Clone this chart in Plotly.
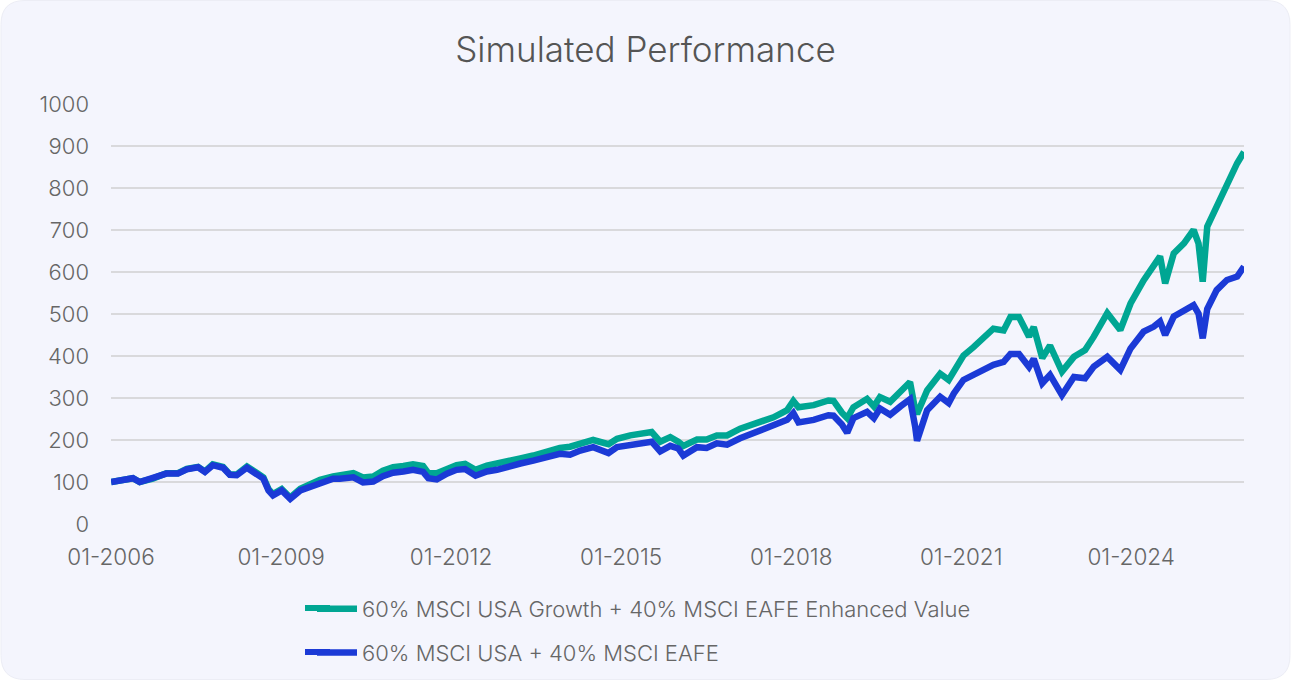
import plotly.graph_objects as go

dates = [
    "2006-01-02", "2006-04-01", "2006-05-22", "2006-07-05", "2006-09-27", "2006-12-24",
    "2007-03-08", "2007-05-04", "2007-07-16", "2007-08-29", "2007-10-19", "2007-12-24",
    "2008-02-06", "2008-03-21", "2008-05-26", "2008-07-27", "2008-09-09", "2008-10-12",
    "2008-11-10", "2009-01-05", "2009-03-01", "2009-05-05", "2009-07-05", "2009-09-09",
    "2009-12-02", "2010-01-15", "2010-04-12", "2010-06-13", "2010-08-18", "2010-10-19",
    "2010-12-24", "2011-02-28", "2011-05-01", "2011-07-05", "2011-08-08", "2011-10-01",
    "2011-12-05", "2012-02-06", "2012-04-01", "2012-06-07", "2012-08-19", "2012-10-23",
    "2012-12-28", "2013-03-23", "2013-06-14", "2013-09-09", "2013-12-02", "2014-02-06",
    "2014-04-13", "2014-07-05", "2014-10-12", "2014-12-06", "2015-03-01", "2015-05-05",
    "2015-07-17", "2015-09-10", "2015-11-14", "2016-01-04", "2016-02-06", "2016-05-04",
    "2016-07-05", "2016-09-09", "2016-11-14", "2017-02-06", "2017-05-26", "2017-09-09",
    "2017-12-06", "2018-01-15", "2018-02-17", "2018-05-26", "2018-08-29", "2018-10-01",
    "2018-11-24", "2018-12-28", "2019-02-06", "2019-05-05", "2019-06-18", "2019-07-27",
    "2019-10-01", "2019-12-06", "2020-02-06", "2020-03-10", "2020-03-22", "2020-05-26",
    "2020-08-18", "2020-10-12", "2020-11-14", "2021-01-15", "2021-03-21", "2021-05-22",
    "2021-07-27", "2021-10-01", "2021-11-14", "2022-01-08", "2022-03-14", "2022-04-13",
    "2022-06-07", "2022-07-27", "2022-10-12", "2022-12-28", "2023-03-10", "2023-05-05",
    "2023-07-31", "2023-10-23", "2023-12-28", "2024-03-21", "2024-05-26", "2024-07-05",
    "2024-08-07", "2024-10-01", "2024-12-06", "2025-02-06", "2025-03-10", "2025-04-06",
    "2025-05-05", "2025-07-05", "2025-09-09", "2025-11-14", "2025-12-28",
]

growth_value = [
    100, 106, 109, 100, 108, 121,
    121, 131, 136, 125, 142, 136,
    118, 118, 137, 122, 111, 83,
    71, 83, 63, 84, 93, 105,
    113, 116, 121, 111, 113, 127,
    135, 138, 142, 138, 121, 121,
    131, 140, 143, 129, 139, 143,
    149, 156, 163, 174, 181, 184,
    190, 200, 190, 203, 211, 216,
    219, 196, 207, 196, 186, 201,
    201, 211, 211, 227, 240, 254,
    271, 293, 278, 283, 294, 293,
    265, 252, 278, 298, 280, 302,
    291, 315, 338, 272, 262, 318,
    358, 343, 366, 401, 421, 445,
    465, 461, 493, 493, 446, 469,
    395, 425, 363, 398, 414, 446,
    502, 462, 525, 580, 613, 637,
    573, 644, 668, 700, 668, 577,
    708, 756, 811, 859, 886,
]

msci_usa_eafe = [
    100, 106, 109, 100, 108, 120,
    120, 130, 135, 124, 140, 134,
    117, 116, 134, 120, 108, 80,
    68, 80, 60, 80, 88, 100,
    108, 108, 111, 99, 101, 114,
    122, 125, 129, 124, 109, 106,
    120, 129, 131, 115, 125, 129,
    137, 144, 151, 159, 167, 165,
    175, 183, 169, 183, 188, 195,
    196, 173, 186, 180, 163, 183,
    181, 192, 189, 204, 219, 232,
    248, 264, 242, 248, 259, 258,
    237, 217, 252, 267, 252, 275,
    260, 280, 297, 232, 198, 271,
    303, 288, 311, 343, 355, 367,
    379, 386, 405, 405, 374, 393,
    335, 355, 307, 350, 347, 375,
    398, 367, 418, 458, 470, 482,
    450, 494, 506, 521, 501, 442,
    512, 557, 581, 589, 613,
]

series_names = [
    "60% MSCI USA Growth + 40% MSCI EAFE Enhanced Value",
    "60% MSCI USA + 40% MSCI EAFE",
]
y_ticks = [0, 100, 200, 300, 400, 500, 600, 700, 800, 900, 1000]

GREEN = "#00A693"
BLUE = "#1B3AD6"
FONT = "Inter"
TXT = "#666666"

fig = go.Figure()
fig.add_trace(go.Scatter(
    x=dates, y=growth_value, name=series_names[0], mode="lines",
    line=dict(color=GREEN, width=6.5), legendgroup="a",
))
fig.add_trace(go.Scatter(
    x=dates, y=msci_usa_eafe, name=series_names[1], mode="lines",
    line=dict(color=BLUE, width=6.5), legendgroup="b",
))

W, H = 1291, 680
L, R, T, B = 111, 47, 104, 156
pw, ph = W - L - R, H - T - B


def px2paper(x, y):
    return (x - L) / pw, (H - B - y) / ph


def rounded_rect(x0, y0, x1, y1, r):
    def P(x, y):
        px_, py_ = px2paper(x, y)
        return f"{px_:.5f},{py_:.5f}"
    path = f"M {P(x0 + r, y0)} L {P(x1 - r, y0)} Q {P(x1, y0)} {P(x1, y0 + r)} "
    path += f"L {P(x1, y1 - r)} Q {P(x1, y1)} {P(x1 - r, y1)} "
    path += f"L {P(x0 + r, y1)} Q {P(x0, y1)} {P(x0, y1 - r)} "
    path += f"L {P(x0, y0 + r)} Q {P(x0, y0)} {P(x0 + r, y0)} Z"
    return path


fig.add_shape(
    type="path", xref="paper", yref="paper",
    path=rounded_rect(1, 0.5, 1290, 679.5, 24),
    fillcolor="#F4F5FD", line=dict(color="#ECEDF5", width=1), layer="below",
)

# extend legend swatches to the reference's longer line length
for yy, col in ((608, GREEN), (652, BLUE)):
    x0p, y0p = px2paper(305, yy)
    x1p, _ = px2paper(330, yy)
    fig.add_shape(type="line", xref="paper", yref="paper",
                  x0=x0p, x1=x1p, y0=y0p, y1=y0p,
                  line=dict(color=col, width=6))

fig.update_layout(
    width=W, height=H,
    margin=dict(l=L, r=R, t=T, b=B, autoexpand=False),
    paper_bgcolor="white", plot_bgcolor="rgba(0,0,0,0)",
    font=dict(family=FONT, color=TXT, size=22, weight=300),
    title=dict(text="Simulated Performance", x=0.5, xref="container", xanchor="center",
               y=1 - 50 / H, yanchor="middle",
               font=dict(family=FONT, size=35, color="#555555", weight=300)),
    showlegend=True,
    legend=dict(orientation="v", x=(312 - L) / pw, xanchor="left",
                y=-(588 - (H - B)) / ph, yanchor="top",
                font=dict(family=FONT, size=22, color=TXT, weight=300),
                bgcolor="rgba(0,0,0,0)", tracegroupgap=12, itemwidth=40),
    xaxis=dict(
        type="date", range=["2006-01-01", dates[-1]],
        tickformat="%m-%Y", dtick="M36", tick0="2006-01-01",
        showgrid=False, zeroline=False, showline=False,
        ticks="", ticklabelstandoff=17,
        tickfont=dict(family=FONT, size=22.5, color=TXT, weight=300),
    ),
    yaxis=dict(
        range=[0, 1000], tickvals=y_ticks, ticktext=[str(v) for v in y_ticks],
        showgrid=True, gridcolor="#D9D9DC", gridwidth=2,
        zeroline=False, showline=False, ticks="", ticklabelstandoff=21,
        tickfont=dict(family=FONT, size=22, color=TXT, weight=300),
    ),
)

fig.write_html("out.html", config={"displayModeBar": False},
               post_script="document.body.style.margin='0';")
